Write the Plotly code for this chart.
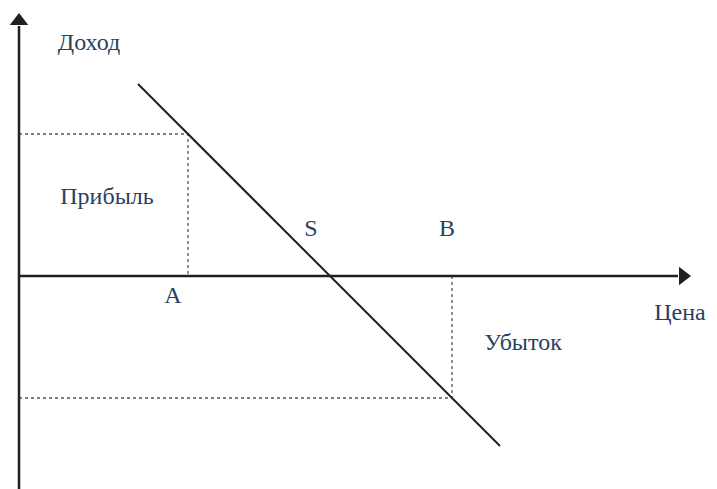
import plotly.graph_objects as go

# Conceptual data (origin at axis crossing)
demand_x = [119, 481]
demand_y = [192, -170]

point_A = (169, 142)   # profit corner
point_B = (433, -122)  # loss corner

x_axis_end = 671
y_axis_top = 262
y_axis_bottom = -221

labels_text = ["Доход", "Прибыль", "S", "B", "A", "Цена", "Убыток"]
labels_x = [70, 88, 292, 428, 154, 661, 504]
labels_y = [232, 78, 46, 46, -21, -38, -68]

fig = go.Figure()

# dotted guide lines
for (px, py) in [point_A, point_B]:
    fig.add_trace(go.Scatter(x=[0, px, px], y=[py, py, 0], mode="lines",
                             line=dict(color="#555555", width=1.3, dash="dot"),
                             hoverinfo="skip", showlegend=False))

# axes
fig.add_trace(go.Scatter(x=[0, x_axis_end - 12], y=[0, 0], mode="lines",
                         line=dict(color="#231f20", width=2.5), showlegend=False, hoverinfo="skip"))
fig.add_trace(go.Scatter(x=[0, 0], y=[y_axis_bottom, y_axis_top - 12], mode="lines",
                         line=dict(color="#231f20", width=2.5), showlegend=False, hoverinfo="skip"))
fig.add_trace(go.Scatter(x=[x_axis_end - 7], y=[0], mode="markers",
                         marker=dict(symbol="triangle-right", size=16, color="#231f20"),
                         showlegend=False, hoverinfo="skip"))
fig.add_trace(go.Scatter(x=[0], y=[y_axis_top - 7], mode="markers",
                         marker=dict(symbol="triangle-up", size=16, color="#231f20"),
                         showlegend=False, hoverinfo="skip"))

# demand line
fig.add_trace(go.Scatter(x=demand_x, y=demand_y, mode="lines",
                         line=dict(color="#231f20", width=2), showlegend=False, hoverinfo="skip"))

# labels
for t, lx, ly in zip(labels_text, labels_x, labels_y):
    fig.add_trace(go.Scatter(x=[lx], y=[ly], mode="text", text=[t],
                             textfont=dict(family="Liberation Serif", size=24),
                             showlegend=False))

# page body has an 8px margin, so the visible window is shifted by 8px
fig.update_layout(
    width=717, height=489,
    margin=dict(l=0, r=0, t=0, b=0),
    paper_bgcolor="white", plot_bgcolor="white",
    xaxis=dict(range=[-11, 706], visible=False, fixedrange=True),
    yaxis=dict(range=[-221, 268], visible=False, fixedrange=True),
)

fig.write_html("out.html")
